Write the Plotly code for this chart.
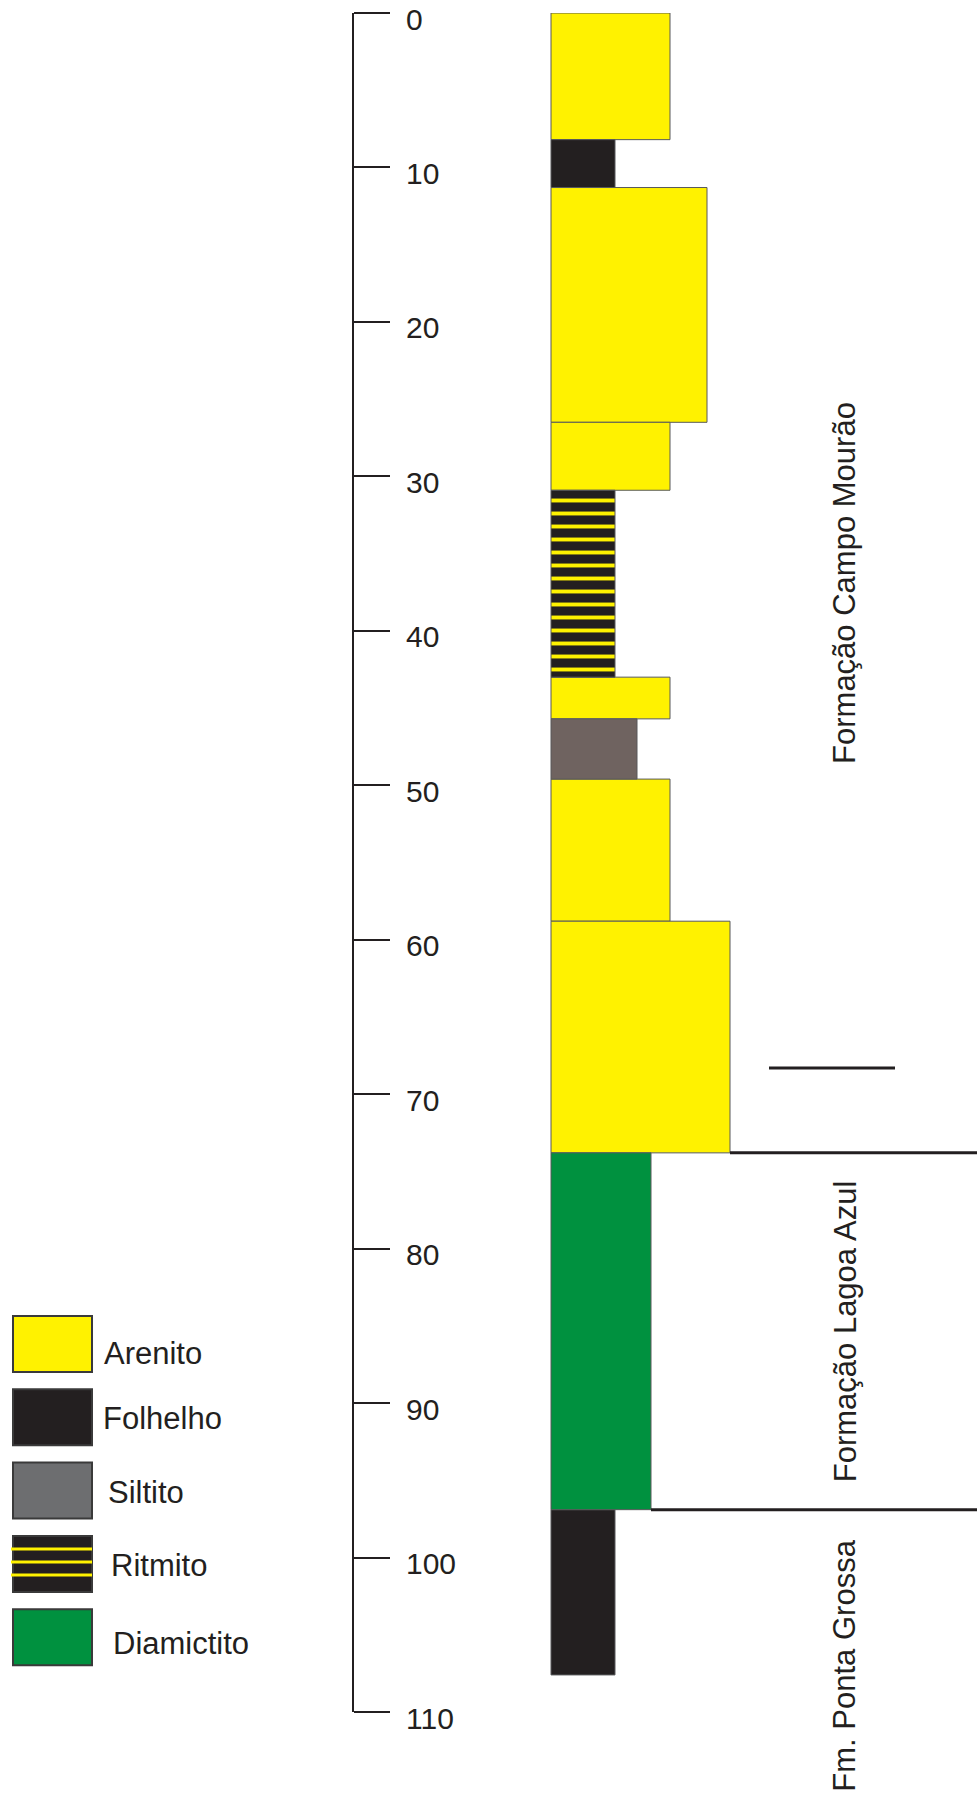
import plotly.graph_objects as go

# ---- lithological column (depth in m, relative grain-size width) ----
lithology = ["Arenito", "Folhelho", "Arenito", "Arenito", "Ritmito", "Arenito",
             "Siltito", "Arenito", "Arenito", "Diamictito", "Folhelho"]
top_depth = [0.0, 8.2, 11.3, 26.5, 30.9, 43.0, 45.7, 49.6, 58.8, 73.8, 96.9]
base_depth = [8.2, 11.3, 26.5, 30.9, 43.0, 45.7, 49.6, 58.8, 73.8, 96.9, 107.6]
bed_width = [119, 64, 156, 119, 64, 119, 86, 119, 179, 100, 64]

# ---- formations ----
formations = ["Formação Campo Mourão", "Formação Lagoa Azul", "Fm. Ponta Grossa"]
formation_top = [0.0, 73.8, 96.9]
formation_base = [73.8, 96.9, 117.0]

# ---- depth scale ----
depth_ticks = [0, 10, 20, 30, 40, 50, 60, 70, 80, 90, 100, 110]

legend_items = ["Arenito", "Folhelho", "Siltito", "Ritmito", "Diamictito"]

INK = "#231f20"
FILL = {
    "Arenito": "#fff200",
    "Folhelho": "#231f20",
    "Siltito": "#6f6360",
    "Ritmito": "#231f20",
    "Diamictito": "#00913f",
}
LEGEND_FILL = dict(FILL, Siltito="#6d6e70")
FONT = "Liberation Sans, Arial, sans-serif"

W, H = 977, 1796
TOP, BOTTOM = 13, 84
COL_X = 551  # left edge of the column, in page pixels


def px_x(p):
    """Page pixel column -> x data value (column left edge at 0)."""
    return p - COL_X


def paper_y(p):
    """Page pixel row -> paper y."""
    return 1 - (p - TOP) / (H - TOP - BOTTOM)


fig = go.Figure()

# one bar per bed, grouped by lithology so each gets its own style
for name in ["Arenito", "Folhelho", "Ritmito", "Siltito", "Diamictito"]:
    idx = [i for i, l in enumerate(lithology) if l == name]
    if not idx:
        continue
    pattern = None
    if name == "Ritmito":
        pattern = dict(shape="-", fgcolor="#fff200", bgcolor=INK,
                       size=13, solidity=0.3, fillmode="replace")
    fig.add_trace(go.Bar(
        orientation="h",
        y=[(top_depth[i] + base_depth[i]) / 2 for i in idx],
        width=[base_depth[i] - top_depth[i] for i in idx],
        x=[bed_width[i] for i in idx],
        base=0,
        marker=dict(color=FILL[name], line=dict(color="#58595b", width=1),
                    pattern=pattern),
        name=name,
        showlegend=False,
        hoverinfo="skip",
    ))

shapes = []
annotations = []

# formation boundaries: from the bed above the contact to the page edge
for d in formation_top[1:]:
    above = [i for i in range(len(base_depth)) if abs(base_depth[i] - d) < 1e-6][0]
    shapes.append(dict(type="line", xref="x", yref="y",
                       x0=bed_width[above], x1=px_x(W), y0=d, y1=d,
                       line=dict(color=INK, width=3)))

# short marker line inside the Campo Mourão interval
shapes.append(dict(type="line", xref="x", yref="y",
                   x0=px_x(769), x1=px_x(895), y0=68.3, y1=68.3,
                   line=dict(color=INK, width=3)))

# formation names, rotated, centred on their intervals
label_y = [(formation_top[0] + formation_base[0]) / 2,
           (formation_top[1] + formation_base[1]) / 2,
           107.0]
for name, yc in zip(formations, label_y):
    annotations.append(dict(x=px_x(845), y=yc, xref="x", yref="y",
                            text=name, textangle=-90, showarrow=False,
                            font=dict(family=FONT, size=31, color=INK),
                            xanchor="center", yanchor="middle"))

# legend swatches
box_l, box_r = 13 / W, 92 / W
box_top0, box_step, box_h = 1316, 73.3, 56
label_x = [102, 101, 106, 109, 111]
label_dy = [9, 1, 2, 2, 6]
for k, name in enumerate(legend_items):
    t = box_top0 + k * box_step
    b = t + box_h
    shapes.append(dict(type="rect", xref="paper", yref="paper",
                       x0=box_l, x1=box_r, y0=paper_y(b), y1=paper_y(t),
                       fillcolor=LEGEND_FILL[name],
                       line=dict(color="#3a3a3a", width=2)))
    if name == "Ritmito":
        for off in (13, 26, 39):
            shapes.append(dict(type="line", xref="paper", yref="paper",
                               x0=11 / W, x1=box_r, y0=paper_y(t + off),
                               y1=paper_y(t + off),
                               line=dict(color="#fff200", width=3)))
    annotations.append(dict(x=label_x[k] / W,
                            y=paper_y(t + box_h / 2 + label_dy[k]),
                            xref="paper", yref="paper", text=name,
                            showarrow=False, xanchor="left", yanchor="middle",
                            font=dict(family=FONT, size=31, color=INK)))

fig.update_layout(
    width=W, height=H,
    margin=dict(l=0, r=0, t=TOP, b=BOTTOM, pad=0),
    paper_bgcolor="white", plot_bgcolor="white",
    barmode="overlay",
    showlegend=False,
    xaxis=dict(range=[px_x(0), px_x(W)], visible=False, fixedrange=True),
    yaxis=dict(
        range=[110, 0], autorange=False,
        anchor="free", position=353 / W, side="right",
        showline=True, linecolor=INK, linewidth=2,
        ticks="outside", ticklen=36, tickwidth=2, tickcolor=INK,
        tickvals=depth_ticks, ticktext=[str(v) for v in depth_ticks],
        tickfont=dict(family=FONT, size=30, color=INK),
        ticklabelstandoff=10, ticklabelshift=-6,
        showgrid=False, zeroline=False,
    ),
    shapes=shapes,
    annotations=annotations,
)

fig.write_html("out.html")
